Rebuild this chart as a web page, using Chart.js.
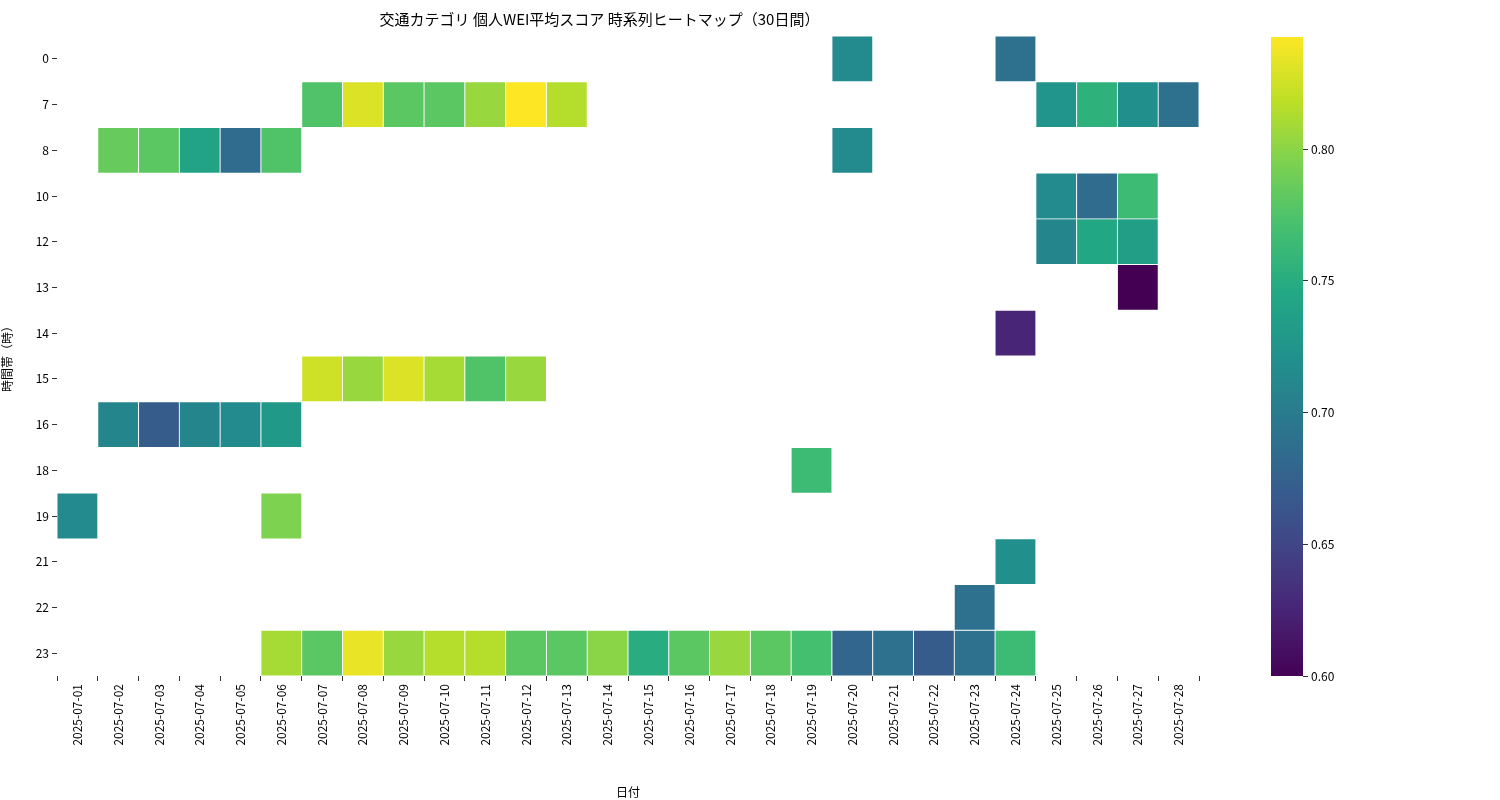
<!DOCTYPE html>
<html><head><meta charset="utf-8">
<script src="https://cdn.jsdelivr.net/npm/chart.js@4"></script>
<style>body{margin:0;background:#fff;font-family:"Noto Sans CJK JP","Noto Sans",sans-serif}
#a{position:absolute;left:0;top:0;width:1220px;height:800px}
#b{position:absolute;left:1230px;top:0;width:150px;height:800px}</style>
</head><body>
<div id="a"><canvas id="c1"></canvas></div>
<div id="b"><canvas id="c2"></canvas></div>
<script>
const dates=[];for(let d=1;d<=28;d++)dates.push('2025-07-'+String(d).padStart(2,'0'));
const hours=['0','7','8','10','12','13','14','15','16','18','19','21','22','23'];
const _=null;
const row0 =[_,_,_,_,_,_,_,_,_,_,_,_,_,_,_,_,_,_,_,0.715,_,_,_,0.69,_,_,_,_];
const row7 =[_,_,_,_,_,_,0.775,0.83,0.78,0.78,0.805,0.843,0.815,_,_,_,_,_,_,_,_,_,_,_,0.725,0.755,0.72,0.69];
const row8 =[_,0.785,0.78,0.74,0.685,0.775,_,_,_,_,_,_,_,_,_,_,_,_,_,0.715,_,_,_,_,_,_,_,_];
const row10=[_,_,_,_,_,_,_,_,_,_,_,_,_,_,_,_,_,_,_,_,_,_,_,_,0.715,0.685,0.765,_];
const row12=[_,_,_,_,_,_,_,_,_,_,_,_,_,_,_,_,_,_,_,_,_,_,_,_,0.71,0.745,0.735,_];
const row13=[_,_,_,_,_,_,_,_,_,_,_,_,_,_,_,_,_,_,_,_,_,_,_,_,_,_,0.60,_];
const row14=[_,_,_,_,_,_,_,_,_,_,_,_,_,_,_,_,_,_,_,_,_,_,_,0.625,_,_,_,_];
const row15=[_,_,_,_,_,_,0.825,0.805,0.83,0.81,0.775,0.805,_,_,_,_,_,_,_,_,_,_,_,_,_,_,_,_];
const row16=[_,0.71,0.67,0.71,0.715,0.73,_,_,_,_,_,_,_,_,_,_,_,_,_,_,_,_,_,_,_,_,_,_];
const row18=[_,_,_,_,_,_,_,_,_,_,_,_,_,_,_,_,_,_,0.765,_,_,_,_,_,_,_,_,_];
const row19=[0.715,_,_,_,_,0.795,_,_,_,_,_,_,_,_,_,_,_,_,_,_,_,_,_,_,_,_,_,_];
const row21=[_,_,_,_,_,_,_,_,_,_,_,_,_,_,_,_,_,_,_,_,_,_,_,0.72,_,_,_,_];
const row22=[_,_,_,_,_,_,_,_,_,_,_,_,_,_,_,_,_,_,_,_,_,_,0.69,_,_,_,_,_];
const row23=[_,_,_,_,_,0.81,0.78,0.835,0.805,0.815,0.815,0.78,0.78,0.8,0.75,0.78,0.805,0.78,0.77,0.68,0.69,0.67,0.69,0.765,_,_,_,_];
const rows=[row0,row7,row8,row10,row12,row13,row14,row15,row16,row18,row19,row21,row22,row23];
const vmin=0.60,vmax=0.8426;
const colorTicks=[0.60,0.65,0.70,0.75,0.80];

const stops=['#440154','#482475','#414487','#355f8d','#2a788e','#21918c','#22a884','#44bf70','#7ad151','#bddf26','#fde725'];
function hex(h){return [1,3,5].map(i=>parseInt(h.substr(i,2),16));}
function viridis(t){t=Math.max(0,Math.min(1,t));const p=t*10,i=Math.min(9,Math.floor(p)),f=p-i;
 const a=hex(stops[i]),b=hex(stops[i+1]);return 'rgb('+a.map((v,k)=>Math.round(v+(b[k]-v)*f)).join(',')+')';}
const cmap=v=>viridis((v-vmin)/(vmax-vmin));

Chart.defaults.font.family='"Noto Sans CJK JP","Noto Sans",sans-serif';
Chart.defaults.color='#222';
const datasets=rows.map((r,ri)=>{
 const pts=[];r.forEach((v,di)=>{if(v!=null)pts.push({x:dates[di],y:[ri-0.5,ri+0.5],v});});
 return {data:pts,
 backgroundColor:c=>(c.raw&&c.raw.v!=null)?cmap(c.raw.v):'transparent',
 borderColor:'#fff',borderWidth:0.8,borderSkipped:false,
 barPercentage:1,categoryPercentage:1,grouped:false};
});
new Chart(document.getElementById('c1'),{type:'bar',data:{labels:dates,datasets},
 options:{responsive:true,maintainAspectRatio:false,animation:false,
 layout:{padding:{left:0,right:21,bottom:0}},
 plugins:{legend:{display:false},tooltip:{enabled:false},
  title:{display:true,text:'交通カテゴリ 個人WEI平均スコア 時系列ヒートマップ（30日間）',font:{size:15,weight:'normal'},color:'#000',padding:{top:10,bottom:8}}},
 scales:{
  x:{grid:{drawOnChartArea:false,tickLength:5,color:'#333'},border:{display:false},
   ticks:{minRotation:90,maxRotation:90,font:{size:12},color:'#000'},
   title:{display:true,text:'日付',font:{size:12},color:'#000',padding:0},
   afterFit:s=>{s.height=124;}},
  y:{type:'linear',min:-0.5,max:13.5,reverse:true,grid:{drawOnChartArea:false,tickLength:5,color:'#333'},border:{display:false},
   afterBuildTicks:s=>{s.ticks=hours.map((h,i)=>({value:i}));},
   ticks:{callback:v=>hours[v],font:{size:12},color:'#000'},
   title:{display:true,text:'時間帯（時）',font:{size:12},color:'#000',padding:0},
   afterFit:s=>{s.width=57;}}
 }}});

new Chart(document.getElementById('c2'),{type:'bar',data:{labels:['c'],datasets:[{data:[[vmin,vmax]],
 backgroundColor:c=>{const a=c.chart.chartArea;if(!a)return '#888';const g=c.chart.ctx.createLinearGradient(0,a.bottom,0,a.top);
  for(let i=0;i<=20;i++)g.addColorStop(i/20,viridis(i/20));return g;},
 barPercentage:1,categoryPercentage:1,borderWidth:0}]},
 options:{responsive:true,maintainAspectRatio:false,animation:false,
 layout:{padding:{left:41,right:17,top:37,bottom:124}},
 plugins:{legend:{display:false},tooltip:{enabled:false}},
 scales:{x:{display:false},
  y:{position:'right',min:vmin,max:vmax,grid:{drawOnChartArea:false,tickLength:5,color:'#333'},border:{display:false},
   afterBuildTicks:s=>{s.ticks=colorTicks.map(v=>({value:v}));},
   ticks:{callback:v=>v.toFixed(2),font:{size:12},color:'#000'},afterFit:s=>{s.width=60;}}}}});
</script></body></html>
